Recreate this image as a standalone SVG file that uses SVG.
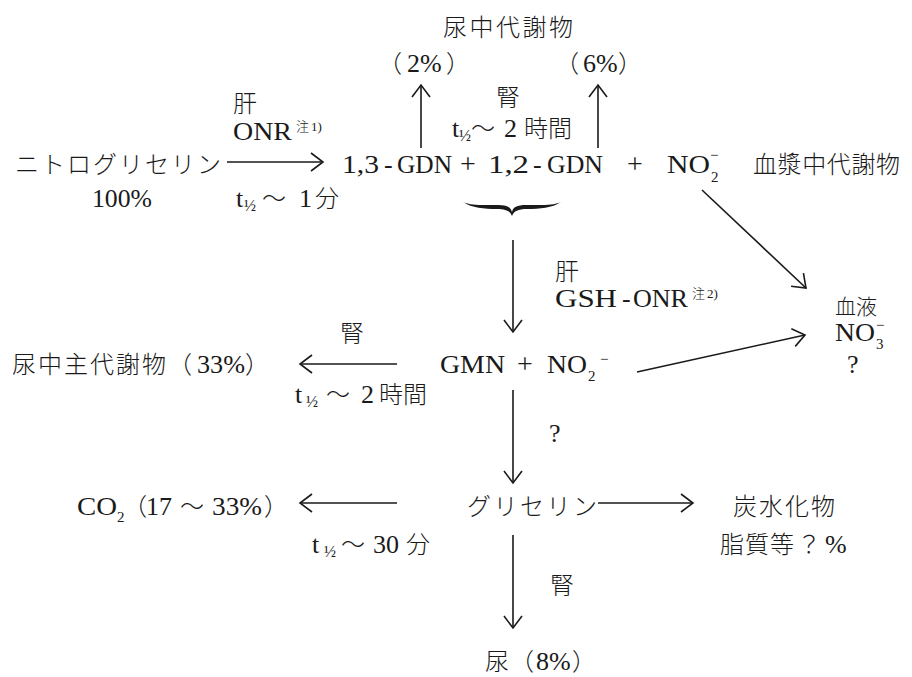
<svg xmlns="http://www.w3.org/2000/svg" width="912" height="677" viewBox="0 0 912 677">
<style>
text{font-family:"Liberation Serif","Noto Sans CJK JP",serif;font-size:26px;fill:#1a1a1a}
.j{font-family:"Noto Sans CJK JP","Liberation Serif",sans-serif;font-size:24px;font-weight:300}
.s{font-size:15px}
.n{font-size:13px}
.h{font-size:16px}
.p{font-size:28px}
.ln{stroke:#1a1a1a;stroke-width:1.6;fill:none;marker-end:url(#ah)}
</style>
<defs>
<marker id="ah" viewBox="-14 -11 16 22" refX="0" refY="0" markerWidth="16" markerHeight="22" markerUnits="userSpaceOnUse" orient="auto">
<path d="M-12,-9 L0,0 L-12,9" fill="none" stroke="#1a1a1a" stroke-width="1.6"/>
</marker>
</defs>
<rect width="912" height="677" fill="#fff"/>

<g id="n-nitroglycerin">
<text class="j" x="15" y="173" letter-spacing="2">ニトログリセリン</text>
<text x="92" y="207" textLength="60" lengthAdjust="spacingAndGlyphs">100%</text>
</g>

<g id="n-urine-metab">
<text class="j" x="443" y="36" letter-spacing="2.5">尿中代謝物</text>
<text class="j" x="378" y="72">（</text><text x="407" y="72">2%</text><text class="j" x="446" y="72">）</text>
<text class="j" x="555" y="72">（</text><text x="583" y="72">6%</text><text class="j" x="618" y="72">）</text>
</g>

<g id="n-gdn">
<text x="342" y="173" textLength="37" lengthAdjust="spacingAndGlyphs">1,3</text>
<text x="384" y="173">-</text>
<text x="397" y="173" textLength="55" lengthAdjust="spacingAndGlyphs">GDN</text>
<text class="p" x="460" y="173">+</text>
<text x="488" y="173" textLength="41" lengthAdjust="spacingAndGlyphs">1,2</text>
<text x="533" y="173">-</text>
<text x="547" y="173" textLength="56" lengthAdjust="spacingAndGlyphs">GDN</text>
<text class="p" x="627" y="173">+</text>
<text x="667" y="173" textLength="43" lengthAdjust="spacingAndGlyphs">NO</text>
<text class="s" x="711" y="182">2</text>
<text class="s" x="710" y="160">−</text>
</g>

<g id="n-plasma">
<text class="j" x="753" y="173" letter-spacing="0.6">血漿中代謝物</text>
</g>

<g id="n-blood">
<text class="j" x="835" y="314" style="font-size:21px">血液</text>
<text x="835" y="341" textLength="40" lengthAdjust="spacingAndGlyphs">NO</text>
<text class="s" x="876" y="349">3</text>
<text class="s" x="876" y="330">−</text>
<text x="847" y="373">?</text>
</g>

<g id="n-gmn">
<text x="440" y="373" textLength="65" lengthAdjust="spacingAndGlyphs">GMN</text>
<text class="p" x="517" y="373">+</text>
<text x="547" y="373" textLength="40" lengthAdjust="spacingAndGlyphs">NO</text>
<text class="s" x="588" y="381">2</text>
<text class="s" x="600" y="364">−</text>
</g>

<g id="n-urine-main">
<text class="j" x="12" y="373" letter-spacing="2">尿中主代謝物</text>
<text class="j" x="168" y="373">（</text><text x="197" y="373" textLength="48" lengthAdjust="spacingAndGlyphs">33%</text><text class="j" x="245" y="373">）</text>
</g>

<g id="n-glycerin">
<text class="j" x="467" y="515" letter-spacing="2.5">グリセリン</text>
</g>

<g id="n-co2">
<text x="77" y="515" textLength="40" lengthAdjust="spacingAndGlyphs">CO</text>
<text class="s" x="117" y="522">2</text>
<text class="j" x="123" y="515">（</text>
<text x="146" y="515">17</text>
<text class="j" x="180" y="515">〜</text>
<text x="212" y="515" textLength="50" lengthAdjust="spacingAndGlyphs">33%</text>
<text class="j" x="264" y="515">）</text>
</g>

<g id="n-carb">
<text class="j" x="733" y="515" letter-spacing="2">炭水化物</text>
<text class="j" x="720" y="553" letter-spacing="1">脂質等</text>
<text class="j" x="797" y="553">？</text>
<text x="825" y="553">%</text>
</g>

<g id="n-urine">
<text class="j" x="485" y="670">尿</text>
<text class="j" x="510" y="670">（</text><text x="536" y="670">8%</text><text class="j" x="572" y="670">）</text>
</g>

<g id="connectors">
<line class="ln" x1="227" y1="162" x2="323" y2="162"/>
<line class="ln" x1="421" y1="148" x2="421" y2="85"/>
<line class="ln" x1="598" y1="148" x2="598" y2="85"/>
<path d="M463,202 C472,206 485,205 498,205 C507,205 511,207 512,212 C513,207 517,205 526,205 C539,205 552,206 561,202 C552,208 540,209 527,209 C518,209 514,211 512,216 C510,211 506,209 497,209 C484,209 472,208 463,202 Z" fill="#1a1a1a"/>
<line class="ln" x1="513" y1="240" x2="513" y2="332"/>
<line class="ln" x1="702" y1="190" x2="806" y2="288"/>
<line class="ln" x1="637" y1="372" x2="805" y2="335"/>
<line class="ln" x1="397" y1="364" x2="300" y2="364"/>
<line class="ln" x1="513" y1="390" x2="513" y2="483"/>
<line class="ln" x1="397" y1="503" x2="300" y2="503"/>
<line class="ln" x1="598" y1="503" x2="693" y2="503"/>
<line class="ln" x1="513" y1="535" x2="513" y2="628"/>
</g>

<g id="edge-labels">
<text class="j" x="233" y="112">肝</text>
<text x="233" y="140" textLength="59" lengthAdjust="spacingAndGlyphs">ONR</text>
<text class="n" x="296" y="131"><tspan class="j" style="font-size:13px">注</tspan><tspan dx="2">1)</tspan></text>
<text x="236" y="207">t</text><text class="h" x="244" y="211">½</text><text class="j" x="262" y="207">〜</text><text x="299" y="207">1</text><text class="j" x="315" y="207">分</text>

<text class="j" x="496" y="106">腎</text>
<text x="452" y="137">t</text><text class="h" x="459" y="141">½</text><text class="j" x="471" y="137">〜</text><text x="504" y="137">2</text><text class="j" x="524" y="137">時間</text>

<text class="j" x="555" y="280">肝</text>
<text x="555" y="307" textLength="62" lengthAdjust="spacingAndGlyphs">GSH</text>
<text x="622" y="307">-</text>
<text x="633" y="307" textLength="55" lengthAdjust="spacingAndGlyphs">ONR</text>
<text class="n" x="692" y="298"><tspan class="j" style="font-size:13px">注</tspan><tspan dx="2">2)</tspan></text>

<text class="j" x="340" y="342">腎</text>
<text x="295" y="403">t</text><text class="h" x="306" y="407">½</text><text class="j" x="326" y="403">〜</text><text x="361" y="403">2</text><text class="j" x="379" y="403">時間</text>

<text x="549" y="442">?</text>

<text x="312" y="553">t</text><text class="h" x="324" y="557">½</text><text class="j" x="341" y="553">〜</text><text x="373" y="553">30</text><text class="j" x="406" y="553">分</text>

<text class="j" x="550" y="594">腎</text>
</g>
</svg>
